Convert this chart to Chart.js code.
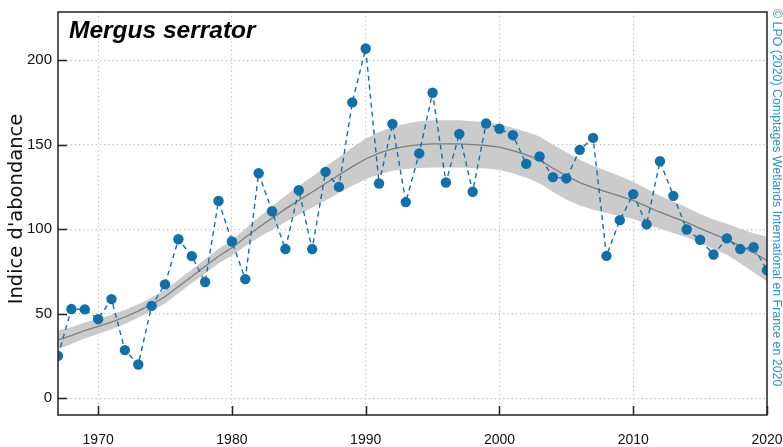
<!DOCTYPE html>
<html>
<head>
<meta charset="utf-8">
<script src="https://cdn.jsdelivr.net/npm/chart.js@4.4.1/dist/chart.umd.min.js"></script>
<style>
  html, body { margin: 0; padding: 0; background: #fff; }
  #wrap { width: 783px; height: 447px; }
</style>
</head>
<body>
<div id="wrap"><canvas id="chart" width="783" height="447"></canvas></div>
<script>
// --- data ---
const years = [1967,1968,1969,1970,1971,1972,1973,1974,1975,1976,1977,1978,1979,1980,
  1981,1982,1983,1984,1985,1986,1987,1988,1989,1990,1991,1992,1993,1994,1995,1996,
  1997,1998,1999,2000,2001,2002,2003,2004,2005,2006,2007,2008,2009,2010,2011,2012,
  2013,2014,2015,2016,2017,2018,2019,2020];

const indexValues = [25,52.7,52.5,46.7,58.6,28.4,19.9,54.6,67.3,94,84,68.7,116.7,92.7,
  70.4,133.1,110.6,88.2,123,88.2,133.9,125,175,206.9,127,162.3,116,144.8,180.7,127.6,
  156.4,122.1,162.5,159.4,155.6,138.6,143,130.8,130,146.9,154,84.2,105.3,120.7,102.8,140.2,
  119.7,99.8,93.7,85,94.5,88.2,89.3,75.7];

const trend = [34.5,37,40,42.5,45,48,51.5,55.5,60,66,72,78,84,89,
  95,101,106.5,112,117,122,127,132,137,141.5,145,147.5,149,150,150.5,150.5,
  150.5,150,149.5,148.5,146.5,144,141,136,131.5,127.5,124.5,122,119.5,117,113.5,110,
  107,104,100.5,97,94,90,86,81.5];

const trendUpper = [40,42,44.8,47,49.3,52.2,55.5,59.5,64,70,76,82.2,88.4,93.6,
  100.2,107,113.5,119.8,125.5,131.2,137,142.6,148.3,153.5,157.5,160.5,162.4,163.8,164.5,164.5,
  164.5,163.8,163.1,162,160,157.6,154.8,150,145.5,141,137.5,134.5,131.3,128,123.9,119.8,
  116.3,112.8,109,105.7,103.2,100.2,97.5,95.5];

const trendLower = [29,32,35.2,38,40.7,43.8,47.5,51.5,56,62,68,73.8,79.6,84.4,
  89.8,95,99.5,104.2,108.5,112.8,117,121.4,125.7,129.5,132.5,134.5,135.6,136.2,136.5,136.5,
  136.5,136.2,135.9,135,133,130.4,127.2,122,117.5,114,111.5,109.5,107.7,106,103.1,100.2,
  97.7,95.2,92,88.3,84.8,79.8,74.5,69];

const xTicks = [1970,1980,1990,2000,2010,2020];
const yTicks = [0,50,100,150,200];

const titleText = 'Mergus serrator';
const yTitle = "Indice d'abondance";
const creditText = '\u00A9 LPO (2020) Comptages Wetlands International en France en 2020';

const BLUE = '#1170a8';

const pts = arr => years.map((y, i) => ({ x: y, y: arr[i] }));

// --- frame, inner ticks and text ---
const decorPlugin = {
  id: 'decor',
  afterDraw(chart) {
    const { ctx, chartArea: a, scales } = chart;
    ctx.save();
    // inner tick marks
    ctx.strokeStyle = '#222';
    ctx.lineWidth = 1.5;
    ctx.beginPath();
    yTicks.forEach(v => {
      const py = Math.round(scales.y.getPixelForValue(v)) + 0.5;
      ctx.moveTo(a.left, py); ctx.lineTo(a.left + 9, py);
    });
    xTicks.forEach(v => {
      const px = Math.round(scales.x.getPixelForValue(v)) + 0.5;
      ctx.moveTo(px, a.bottom); ctx.lineTo(px, a.bottom - 9);
    });
    ctx.stroke();
    // frame
    ctx.lineWidth = 1.5;
    ctx.strokeRect(a.left, a.top, a.right - a.left, a.bottom - a.top);

    // title inside plot
    ctx.fillStyle = '#000';
    ctx.font = 'italic bold 24.5px "Liberation Sans", Arial, sans-serif';
    ctx.textAlign = 'left';
    ctx.textBaseline = 'alphabetic';
    ctx.fillText(titleText, 69, 38);

    // y axis title
    ctx.save();
    ctx.translate(17, 209);
    ctx.rotate(-Math.PI / 2);
    ctx.font = '19.5px "DejaVu Sans", sans-serif';
    ctx.fillStyle = '#111';
    ctx.textAlign = 'center';
    ctx.textBaseline = 'middle';
    ctx.fillText(yTitle, 0, 0);
    ctx.restore();

    // credit on the right
    ctx.save();
    ctx.translate(776, 9);
    ctx.rotate(Math.PI / 2);
    ctx.font = '12.4px "Liberation Sans", Arial, sans-serif';
    ctx.fillStyle = '#3591c6';
    ctx.textAlign = 'left';
    ctx.textBaseline = 'middle';
    ctx.fillText(creditText, 0, 0);
    ctx.restore();

    ctx.restore();
  }
};

const gridOpts = { color: '#bdbdbd', lineWidth: 1.2, drawTicks: false };

new Chart(document.getElementById('chart'), {
  type: 'line',
  data: {
    datasets: [
      {
        label: 'upper',
        data: pts(trendUpper),
        borderWidth: 0,
        pointRadius: 0,
        fill: '+1',
        backgroundColor: '#cbcbcb',
        order: 3
      },
      {
        label: 'lower',
        data: pts(trendLower),
        borderWidth: 0,
        pointRadius: 0,
        fill: false,
        order: 4
      },
      {
        label: 'tendance',
        data: pts(trend),
        borderColor: '#7d7d7d',
        borderWidth: 1.3,
        pointRadius: 0,
        fill: false,
        order: 1
      },
      {
        label: 'indice',
        data: pts(indexValues),
        borderColor: BLUE,
        borderWidth: 1.4,
        borderDash: [5, 4],
        pointRadius: 5.2,
        pointBackgroundColor: BLUE,
        pointBorderWidth: 0,
        fill: false,
        order: 0
      }
    ]
  },
  options: {
    responsive: false,
    animation: false,
    events: [],
    layout: { padding: { top: 12, right: 0, left: 0, bottom: 0 } },
    plugins: { legend: { display: false }, tooltip: { enabled: false }, title: { display: false } },
    scales: {
      x: {
        type: 'linear',
        min: 1967,
        max: 2020,
        afterBuildTicks: s => { s.ticks = xTicks.map(v => ({ value: v })); },
        afterFit: s => { s.height = 32; s.paddingLeft = 0; s.paddingRight = 16; },
        grid: gridOpts,
        border: { display: false, dash: [1.2, 3] },
        ticks: {
          padding: 17,
          color: '#111',
          font: { family: '"Liberation Sans", Arial, sans-serif', size: 14 },
          maxRotation: 0,
          callback: v => String(v)
        }
      },
      y: {
        min: -10,
        max: 228.5,
        afterBuildTicks: s => { s.ticks = yTicks.map(v => ({ value: v })); },
        afterFit: s => { s.width = 58; s.paddingTop = 0; s.paddingBottom = 0; },
        grid: gridOpts,
        border: { display: false, dash: [1.2, 3] },
        ticks: {
          padding: 6,
          color: '#111',
          font: { family: '"Liberation Sans", Arial, sans-serif', size: 15 }
        }
      }
    }
  },
  plugins: [decorPlugin]
});
</script>
</body>
</html>
